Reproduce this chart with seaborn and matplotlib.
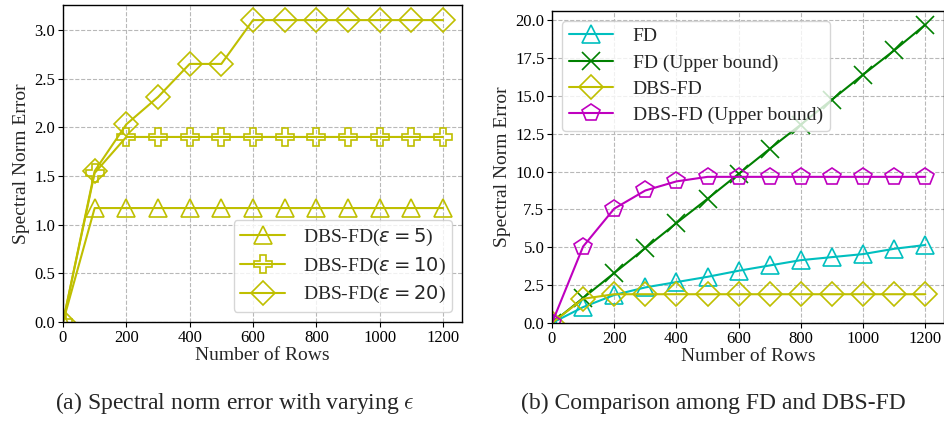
import matplotlib
matplotlib.use("Agg")
import matplotlib.pyplot as plt
import seaborn as sns
import pandas as pd

rows = [0, 100, 200, 300, 400, 500, 600, 700, 800, 900, 1000, 1100, 1200]

# (a) varying epsilon
eps5 = [0, 1.17, 1.17, 1.17, 1.17, 1.17, 1.17, 1.17, 1.17, 1.17, 1.17, 1.17, 1.17]
eps10 = [0, 1.53, 1.90, 1.90, 1.90, 1.90, 1.90, 1.90, 1.90, 1.90, 1.90, 1.90, 1.90]
eps20 = [0, 1.55, 2.03, 2.31, 2.65, 2.65, 3.10, 3.10, 3.10, 3.10, 3.10, 3.10, 3.10]

# (b) comparison
fd = [0, 1.05, 1.85, 2.35, 2.70, 3.05, 3.45, 3.80, 4.15, 4.35, 4.55, 4.90, 5.15]
fd_ub = [0, 1.65, 3.30, 4.95, 6.60, 8.20, 9.85, 11.50, 13.10, 14.75, 16.40, 18.00, 19.70]
dbs = [0, 1.60, 1.90, 1.90, 1.90, 1.90, 1.90, 1.90, 1.90, 1.90, 1.90, 1.90, 1.90]
dbs_ub = [0, 5.05, 7.55, 8.75, 9.35, 9.65, 9.65, 9.65, 9.65, 9.65, 9.65, 9.65, 9.65]

YEL = '#bfbf00'
CYN = '#00bfbf'
GRN = '#008000'
MAG = '#bf00bf'

sns.set_theme(style="whitegrid")
plt.rcParams['font.family'] = ['Liberation Serif', 'DejaVu Serif']
plt.rcParams['mathtext.fontset'] = 'dejavusans'

fig = plt.figure(figsize=(9.45, 4.23), dpi=100)
ax1 = fig.add_axes([63/945, 1 - 322/423, 399/945, 317/423])
ax2 = fig.add_axes([552/945, 1 - 323/423, 392/945, 312/423])

def style_ax(ax):
    ax.set_facecolor('white')
    ax.grid(True, linestyle='--', color='#b8b8b8', linewidth=0.8)
    for s in ax.spines.values():
        s.set_color('black')
        s.set_linewidth(1.0)
    ax.tick_params(axis='both', labelsize=12, length=3.5, width=0.8,
                   color='black', labelcolor='black', bottom=True, left=True, pad=2)
    ax.set_xlabel('Number of Rows', fontsize=14, labelpad=1)
    ax.set_ylabel('Spectral Norm Error', fontsize=14, labelpad=3)

def plot_series(ax, y, label, color, marker, ms=13):
    df = pd.DataFrame({'rows': rows, 'err': y})
    sns.lineplot(data=df, x='rows', y='err', ax=ax, color=color, label=label,
                 marker=marker, markersize=ms, markerfacecolor='none',
                 markeredgecolor=color, markeredgewidth=1.2, linewidth=1.5)

plot_series(ax1, eps5, r'DBS-FD($\epsilon = 5$)', YEL, '^')
plot_series(ax1, eps10, r'DBS-FD($\epsilon = 10$)', YEL, 'P')
plot_series(ax1, eps20, r'DBS-FD($\epsilon = 20$)', YEL, 'D', ms=12)
style_ax(ax1)
ax1.set_xlim(0, 1260)
ax1.set_ylim(0, 3.255)
ax1.set_xticks([0, 200, 400, 600, 800, 1000, 1200])
ax1.set_yticks([0, 0.5, 1.0, 1.5, 2.0, 2.5, 3.0])
ax1.set_yticklabels(['0.0', '0.5', '1.0', '1.5', '2.0', '2.5', '3.0'])
leg1 = ax1.legend(loc='lower right', fontsize=14, frameon=True, fancybox=True,
                  borderpad=0.35, labelspacing=0.4, handlelength=2.3,
                  handletextpad=0.9, borderaxespad=0.5)
leg1.get_frame().set_edgecolor('#cccccc')

plot_series(ax2, fd, 'FD', CYN, '^')
plot_series(ax2, fd_ub, 'FD (Upper bound)', GRN, 'x')
plot_series(ax2, dbs, 'DBS-FD', YEL, 'D', ms=12)
plot_series(ax2, dbs_ub, 'DBS-FD (Upper bound)', MAG, 'p')
style_ax(ax2)
ax2.set_xlim(0, 1260)
ax2.set_ylim(0, 20.6)
ax2.set_xticks([0, 200, 400, 600, 800, 1000, 1200])
ax2.set_yticks([0, 2.5, 5, 7.5, 10, 12.5, 15, 17.5, 20])
ax2.set_yticklabels(['0.0', '2.5', '5.0', '7.5', '10.0', '12.5', '15.0', '17.5', '20.0'])
leg2 = ax2.legend(loc='upper left', fontsize=14, frameon=True, fancybox=True,
                  borderpad=0.35, labelspacing=0.45, handlelength=2.3,
                  handletextpad=1.0, borderaxespad=0.5)
leg2.get_frame().set_edgecolor('#cccccc')

fig.text(235/945, 1 - 403/423, r'(a) Spectral norm error with varying $\epsilon$',
         ha='center', va='center', fontsize=17, math_fontfamily='cm')
fig.text(713/945, 1 - 403/423, '(b) Comparison among FD and DBS-FD',
         ha='center', va='center', fontsize=17)

fig.savefig('out.png', dpi=100, facecolor='white')
